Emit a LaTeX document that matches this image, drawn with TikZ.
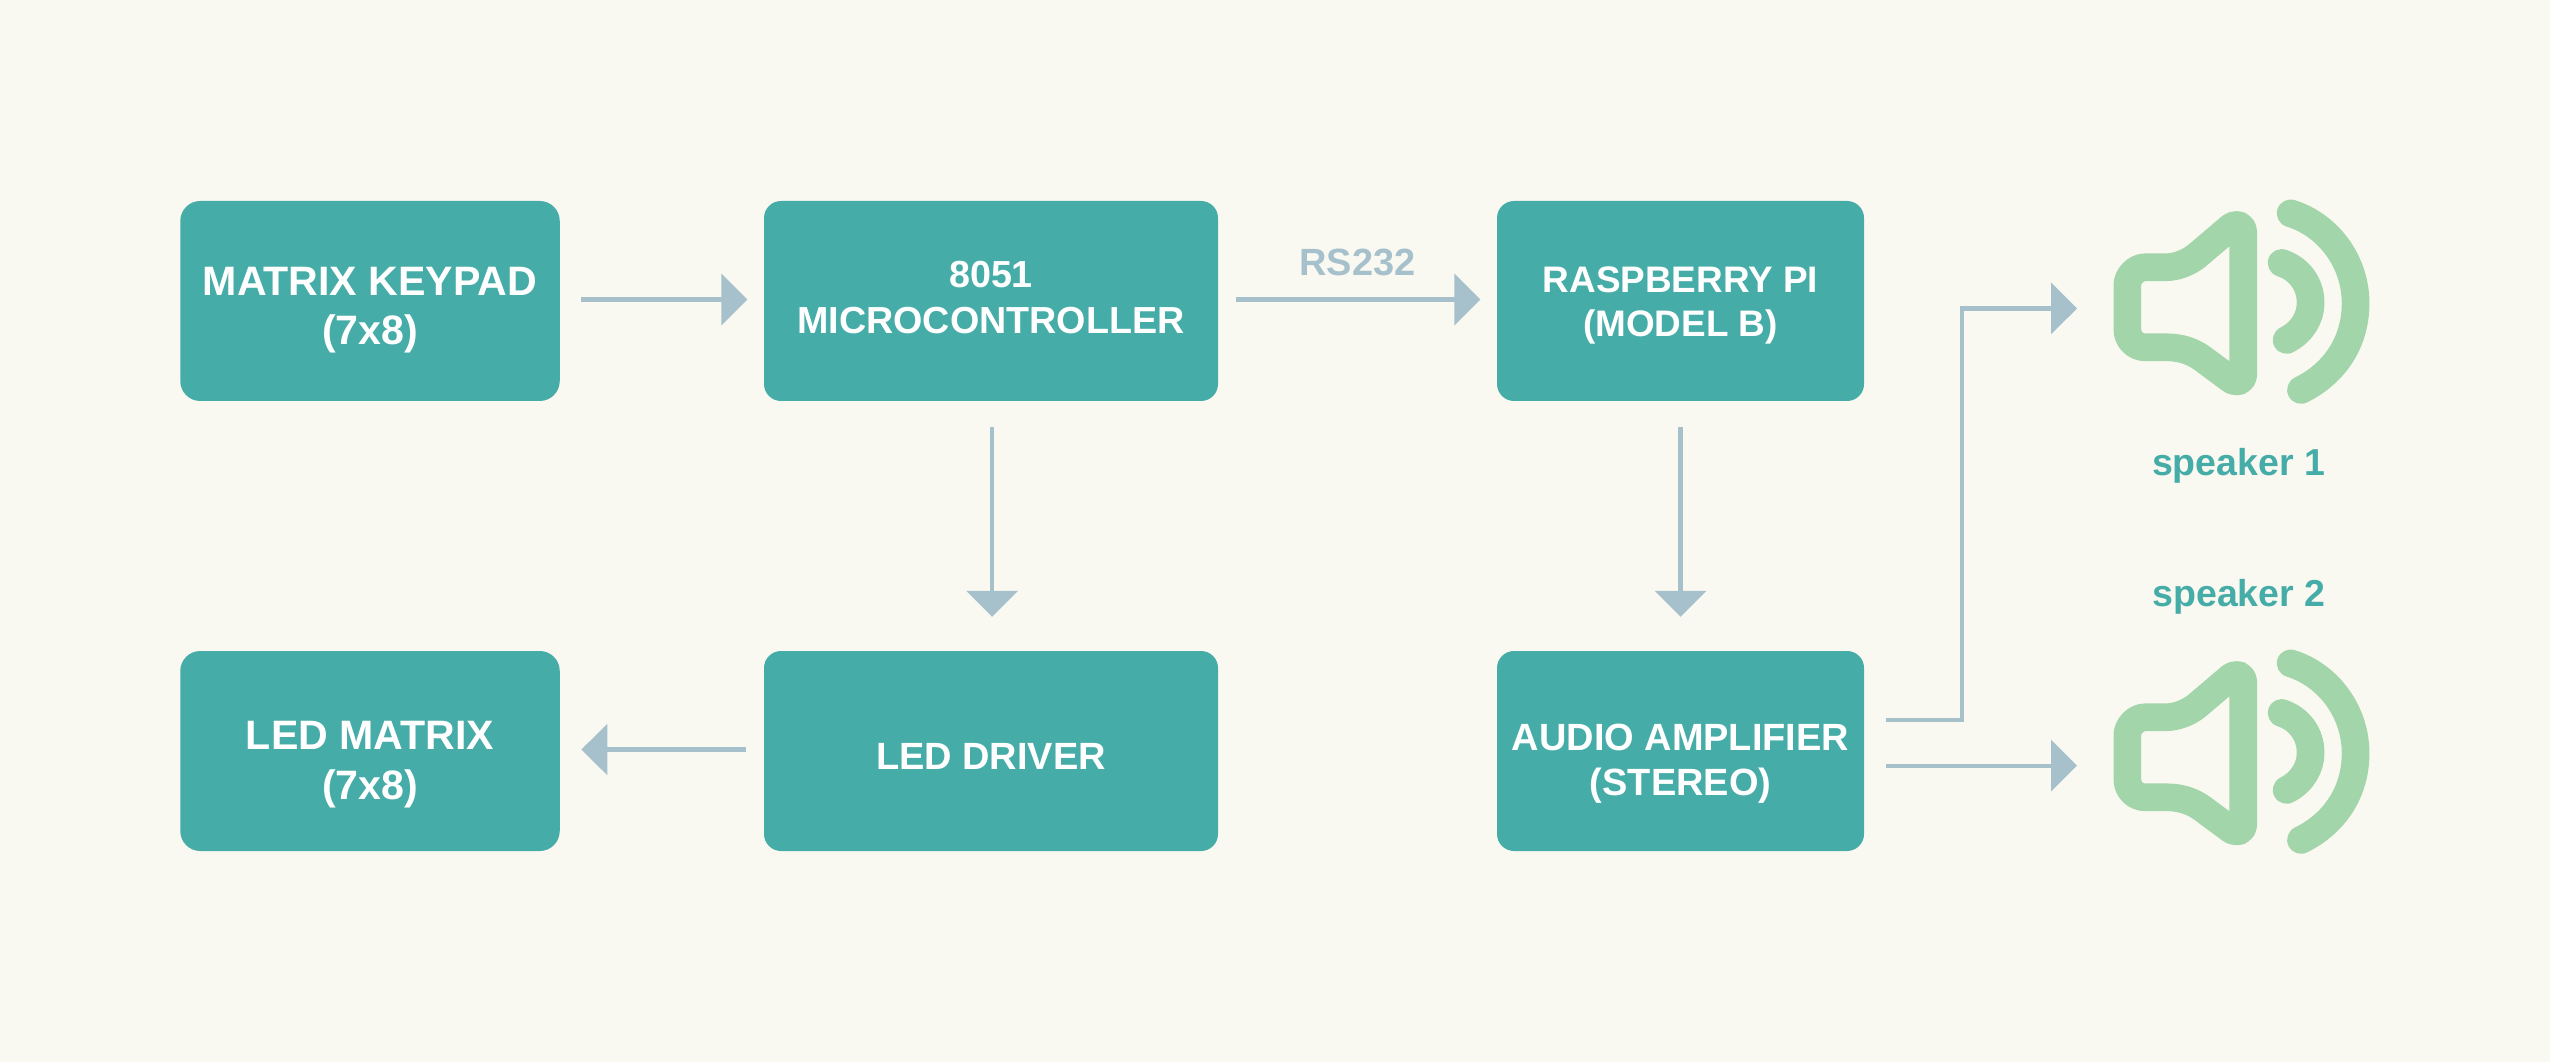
\documentclass[tikz,border=0pt]{standalone}
\usepackage{fontspec}
\setmainfont{Liberation Sans}
\usetikzlibrary{arrows.meta}
\definecolor{pagebg}{HTML}{FAF9F1}
\definecolor{boxteal}{HTML}{45ACA7}
\definecolor{flowblue}{HTML}{A6C1CC}
\definecolor{speakergreen}{HTML}{A3D5AA}
\newcommand{\midfont}{\fontsize{10.8}{12.8}\selectfont}
\newcommand{\bigfont}{\fontsize{11.7}{14.2}\selectfont}
\tikzset{
  speakerpic/.pic={
    \draw[speakergreen,line width=.277cm,line join=round,line cap=round,x=.03333mm,y=-.03333mm]
      (285,292) -- (345,292) .. controls (380,292) and (415,278) .. (441,257)
      -- (541,172) .. controls (560,157) and (580,165) .. (580,190)
      -- (580,610) .. controls (580,635) and (560,642) .. (540,627)
      -- (455,564) .. controls (425,543) and (390,532) .. (350,532)
      -- (285,532) .. controls (256,532) and (232,508) .. (232,478)
      -- (232,345) .. controls (232,321) and (256,292) .. (285,292) -- cycle
      (695,279) .. controls (750,297) and (782,345) .. (782,398)
      .. controls (782,445) and (755,487) .. (710,510)
      (722,130) .. controls (835,165) and (917,275) .. (917,400)
      .. controls (917,515) and (855,610) .. (753,660);
  }
}

\begin{document}
\begin{tikzpicture}
    [block/.style={fill=boxteal,text=white,font=\bfseries\midfont,align=center,inner sep=0pt,
       rounded corners=.17cm,minimum height=2cm},
     flow/.style={draw=flowblue,line width=.042cm,-{Triangle[length=.26cm,width=.51cm]}},
     spklabel/.style={text=boxteal,font=\bfseries\fontsize{10.67}{12}\selectfont,inner sep=0pt,anchor=base}]
    \useasboundingbox (0,0) rectangle (25.5,10.62);
    \fill[pagebg] (0,0) rectangle (25.5,10.62);
    % top row
    \node[block,minimum width=3.795cm,rounded corners=.2cm,font=\bfseries\bigfont,text height=.88cm,text depth=0pt]
      (keypad) at (3.70,7.61) {MATRIX KEYPAD\\(7x8)};
    \node[block,minimum width=4.54cm,text height=.66cm,text depth=0pt,
      font=\bfseries\fontsize{10.72}{13.1}\selectfont]
      (mcu) at (9.91,7.61) {8051\\MICROCONTROLLER};
    \node[block,minimum width=3.67cm,text height=.71cm,text depth=0pt,
      font=\bfseries\fontsize{10.5}{12.5}\selectfont]
      (rpi) at (16.805,7.61) {RASPBERRY PI\\(MODEL B)};
    % bottom row
    \node[block,minimum width=3.795cm,rounded corners=.2cm,font=\bfseries\bigfont,text height=.96cm,text depth=0pt]
      (ledmatrix) at (3.70,3.11) {LED MATRIX\\(7x8)};
    \node[block,minimum width=4.54cm,text height=.36cm,text depth=0pt]
      (driver) at (9.91,3.11) {LED DRIVER};
    \node[block,minimum width=3.67cm,text height=.88cm,text depth=0pt]
      (amp) at (16.805,3.11) {AUDIO AMPLIFIER\\(STEREO)};
    % speakers
    \pic (spkone) at (20.5,8.92) {speakerpic};
    \pic (spktwo) at (20.5,4.42) {speakerpic};
    \node[spklabel] (lblone) at (22.385,5.86) {speaker 1};
    \node[spklabel] (lbltwo) at (22.39,4.56) {speaker 2};
    \coordinate (spkinone) at (20.77,7.535);
    \coordinate (spkintwo) at (20.77,2.963);
    \coordinate (elbow) at (19.62,7.535);
    % connectors
    \draw[flow,shorten <=.21cm,shorten >=.16cm] ([yshift=.015cm]keypad.east) -- ([yshift=.015cm]mcu.west);
    \draw[flow,shorten <=.17cm,shorten >=.16cm] ([yshift=.015cm]mcu.east) -- ([yshift=.015cm]rpi.west)
      node[midway,above=.215cm,inner sep=0pt,text depth=0pt,text=flowblue,font=\bfseries\fontsize{10.8}{12}\selectfont] (rslabel) {RS232};
    \draw[flow,shorten <=.25cm,shorten >=.335cm] ([xshift=.01cm]mcu.south) -- ([xshift=.01cm]driver.north);
    \draw[flow,shorten <=.25cm,shorten >=.335cm] (rpi.south) -- (amp.north);
    \draw[flow,shorten <=.17cm,shorten >=.21cm] ([yshift=.015cm]driver.west) -- ([yshift=.015cm]ledmatrix.east);
    \draw[flow,shorten <=.21cm] ([yshift=.31cm]amp.east) -| (elbow) -- (spkinone);
    \draw[flow,shorten <=.21cm] ([yshift=-.147cm]amp.east) -- (spkintwo);
  \end{tikzpicture}
\end{document}
